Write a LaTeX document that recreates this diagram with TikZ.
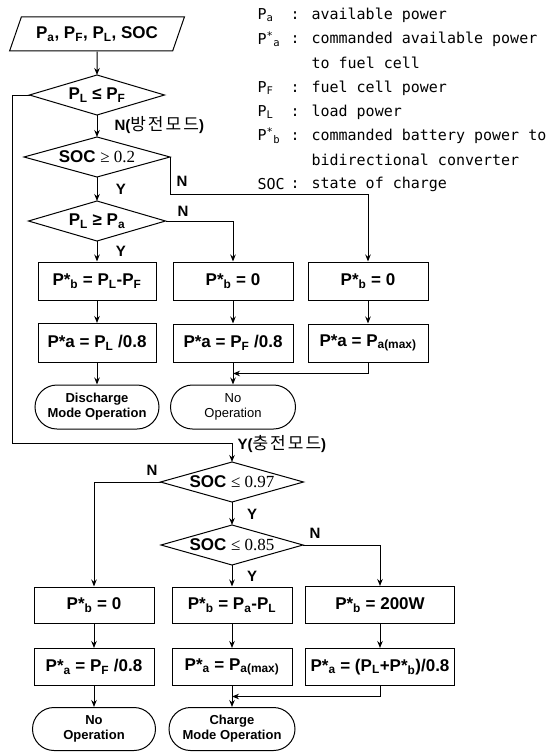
\documentclass[tikz,border=0pt]{standalone}
\usepackage{fontspec}
\setmainfont{Liberation Sans}
\newfontfamily\numfont{Liberation Serif}
\newfontfamily\kofont[LetterSpace=12]{Noto Sans CJK KR}
\newfontfamily\legfont{DejaVu Sans Mono}
\usepackage{tikz}
\usetikzlibrary{
	arrows.meta,
	positioning,
	calc,
	shapes.geometric,
	shapes.misc
}
\usepackage{xcolor}

\begin{document}
\begin{tikzpicture}[x=1pt,y=1pt,>={Stealth[length=7pt,width=5.5pt]},line width=1pt,
	box/.style={draw,rectangle,minimum width=120pt,minimum height=38pt,inner sep=0pt,
		font=\fontsize{17}{20}\selectfont\bfseries},
	condtxt/.style={inner sep=0pt,font=\fontsize{17}{20}\selectfont\bfseries},
	term/.style={draw,rounded rectangle,minimum width=124pt,minimum height=44pt,
		inner sep=0pt,align=center,font=\fontsize{13}{15}\selectfont\bfseries},
	io/.style={draw,trapezium,trapezium left angle=57,trapezium right angle=123,
		trapezium stretches=true,minimum width=175pt,minimum height=34pt,inner sep=0pt,
		font=\fontsize{17}{20}\selectfont\bfseries},
	lbl/.style={inner sep=0pt,font=\fontsize{15}{18}\selectfont\bfseries},
	legkey/.style={anchor=west,inner sep=0pt,font=\legfont\fontsize{15}{18}\selectfont},
	legtxt/.style={anchor=west,inner sep=0pt,font=\legfont\fontsize{15}{18}\selectfont}]
		
		\useasboundingbox[fill=white] (0,0) rectangle (553,-752);
		
		% legend
		\foreach \yy/\key/\txt in {
			15/{P\textsubscript{a}}/{: available power},
			39/{P\textsuperscript{*}\textsubscript{a}}/{: commanded available power},
			63/{}/{\hphantom{: }to fuel cell},
			88/{P\textsubscript{F}}/{: fuel cell power},
			112/{P\textsubscript{L}}/{: load power},
			136/{P\textsuperscript{*}\textsubscript{b}}/{: commanded battery power to},
			160/{}/{\hphantom{: }bidirectional converter},
			184/{SOC}/{: state of charge}}
		{
			\node[legkey] (key\yy) at (257,-\yy) {\key};
			\node[legtxt] (txt\yy) at (290,-\yy) {\txt};
		}
		
		% decisions (tips 20pt above and below the centre)
		\foreach \nm/\cx/\cy/\hw/\txt in {
			plpf/97/95/67.5/{P\textsubscript{L} ≤ P\textsubscript{F}},
			soc2/97/157/73/{SOC {\numfont\mdseries ≥ 0.2}},
			plpa/97/221/68.5/{P\textsubscript{L} ≥ P\textsubscript{a}},
			soc97/232/482/71.5/{SOC {\numfont\mdseries ≤ 0.97}},
			soc85/232/545/71/{SOC {\numfont\mdseries ≤ 0.85}}}
		{
			\node[condtxt] (\nm) at (\cx,-\cy) {\txt};
			\coordinate (\nm-n) at (\cx,-\cy+20);
			\coordinate (\nm-s) at (\cx,-\cy-20);
			\coordinate (\nm-e) at (\cx+\hw,-\cy);
			\coordinate (\nm-w) at (\cx-\hw,-\cy);
			\draw (\nm-w) -- (\nm-n) -- (\nm-e) -- (\nm-s) -- cycle;
		}
		
		% discharge side
		\node[io] (inp) at (97,-34) {P\textsubscript{a}, P\textsubscript{F}, P\textsubscript{L}, SOC};
		
		\node[box,minimum width=118pt] (pb1) at (97,-281) {P*\textsubscript{b} = P\textsubscript{L}-P\textsubscript{F}};
		\node[box] (pb2) at (233,-281) {P*\textsubscript{b} = 0};
		\node[box] (pb3) at (368,-281) {P*\textsubscript{b} = 0};
		\node[box,minimum width=118pt,minimum height=39pt] (pa1) at (97,-343) {P*a = P\textsubscript{L} /0.8};
		\node[box] (pa2) at (233,-343) {P*a = P\textsubscript{F} /0.8};
		\node[box] (pa3) at (368,-343) {P*a = P\textsubscript{a(max)}};
		
		\node[term] (dis) at (97,-407) {Discharge\\Mode Operation};
		\node[term,minimum width=125pt,font=\fontsize{13}{15}\selectfont] (noop1) at (233,-407) {No\\Operation};
		
		% charge side
		\node[box,minimum height=36pt] (pb4) at (94,-605) {P*\textsubscript{b} = 0};
		\node[box,minimum height=36pt] (pb5) at (232,-605) {P*\textsubscript{b} = P\textsubscript{a}-P\textsubscript{L}};
		\node[box,minimum width=149pt,minimum height=37pt] (pb6) at (380,-605) {P*\textsubscript{b} = 200W};
		\node[box,minimum height=37pt] (pa4) at (94,-667) {P*\textsubscript{a} = P\textsubscript{F} /0.8};
		\node[box,minimum height=37pt] (pa5) at (232,-667) {P*\textsubscript{a} = P\textsubscript{a(max)}};
		\node[box,minimum width=149pt,minimum height=37pt] (pa6) at (380,-667) {P*\textsubscript{a} = (P\textsubscript{L}+P*\textsubscript{b})/0.8};
		
		\node[term,minimum width=123pt,minimum height=43pt] (noop2) at (94,-729) {No\\Operation};
		\node[term,minimum width=126pt,minimum height=43pt] (chg) at (232,-729) {Charge\\Mode Operation};
		
		% branch labels
		\node[lbl,anchor=west] (nlab1) at (114,-125) {N({\kofont\mdseries\fontsize{17}{20}\selectfont 방전모드})};
		\node[lbl] (ylab1) at (121,-189) {Y};
		\node[lbl] (nlab2) at (182,-181) {N};
		\node[lbl] (nlab3) at (183,-211) {N};
		\node[lbl] (ylab2) at (121,-251) {Y};
		\node[lbl,anchor=west] (ylab3) at (237,-444) {Y({\kofont\mdseries\fontsize{17}{20}\selectfont 충전모드})};
		\node[lbl] (nlab4) at (152,-470) {N};
		\node[lbl] (ylab4) at (252,-514) {Y};
		\node[lbl] (nlab5) at (315,-533) {N};
		\node[lbl] (ylab5) at (252,-576) {Y};
		
		% connectors
		\coordinate (loop) at (12,-443);
		\coordinate (m1) at ($(pa2.south)!.5!(noop1.north)$);
		\coordinate (m2) at ($(pa5.south)!.5!(chg.north)$);
		
		\draw[->] (inp.south) -- (plpf-n);
		\draw[->] (plpf-s) -- (soc2-n);
		\draw[->] (soc2-s) -- (plpa-n);
		\draw[->] (plpa-s) -- (pb1.north);
		\draw[->] (pb1) -- (pa1);
		\draw[->] (pa1) -- (dis);
		\draw[->] (soc2-e) -- ++(0,-37) -| (pb3.north);
		\draw[->] (plpa-e) -| (pb2.north);
		\draw[->] (pb2) -- (pa2);
		\draw[->] (pa2) -- (noop1);
		\draw[->] (pb3) -- (pa3);
		\draw[->] (pa3.south) |- (m1);
		
		\draw[->] (plpf-w) -| (loop) -- (loop -| soc97-n) -- (soc97-n);
		\draw[->] (soc97-s) -- (soc85-n);
		\draw[->] (soc85-s) -- (pb5.north);
		\draw[->] (soc97-w) -| (pb4.north);
		\draw[->] (soc85-e) -| (pb6.north);
		\draw[->] (pb4) -- (pa4);
		\draw[->] (pa4) -- (noop2);
		\draw[->] (pb5) -- (pa5);
		\draw[->] (pa5) -- (chg);
		\draw[->] (pb6) -- (pa6);
		\draw[->] (pa6.south) |- (m2);
		
	\end{tikzpicture}
\end{document}
